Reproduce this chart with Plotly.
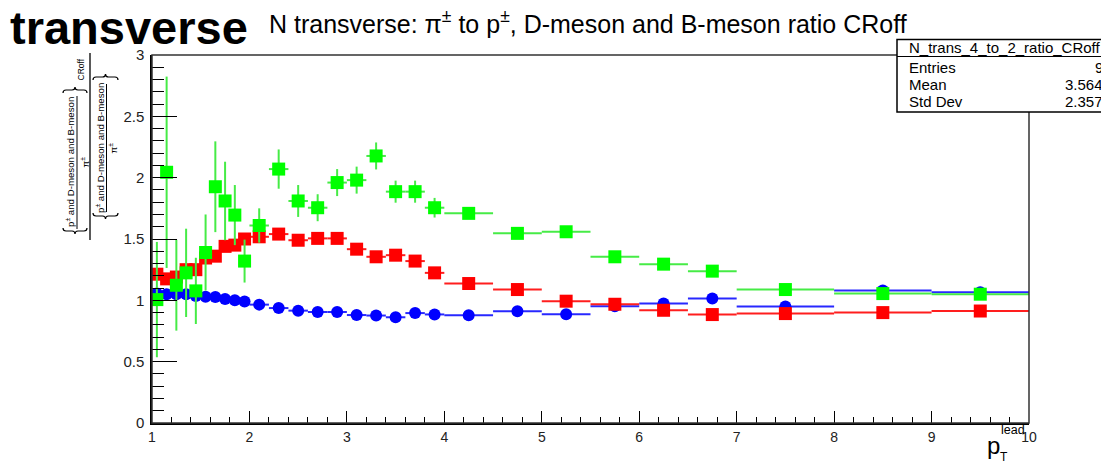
import plotly.graph_objects as go

# p_T^lead binning (variable width bins)
bin_edges = [1.0, 1.1, 1.2, 1.3, 1.4, 1.5, 1.6, 1.7, 1.8, 1.9, 2.0,
             2.2, 2.4, 2.6, 2.8, 3.0, 3.2, 3.4, 3.6, 3.8, 4.0,
             4.5, 5.0, 5.5, 6.0, 6.5, 7.0, 8.0, 9.0, 10.0]

# ratio values per bin
blue_ratio = [1.055, 1.05, 1.05, 1.05, 1.036, 1.03, 1.028, 1.01, 1.0, 0.99,
              0.965, 0.937, 0.916, 0.905, 0.905, 0.88, 0.876, 0.862, 0.896, 0.885,
              0.878, 0.911, 0.886, 0.952, 0.974, 1.015,
              0.95, 1.08, 1.066]

red_ratio = [1.213, 1.175, 1.19, 1.25, 1.25, 1.345, 1.36, 1.44, 1.45, 1.50,
             1.518, 1.54, 1.49, 1.505, 1.505, 1.417, 1.355, 1.368, 1.32, 1.224,
             1.137, 1.088, 0.993, 0.968, 0.919, 0.884,
             0.892, 0.90, 0.913]

green_ratio = [1.006, 2.044, 1.123, 1.224, 1.077, 1.39, 1.926, 1.81, 1.695, 1.32,
               1.61, 2.07, 1.81, 1.755, 1.96, 1.98, 2.177, 1.886, 1.886, 1.755,
               1.709, 1.546, 1.559, 1.355, 1.295, 1.238,
               1.088, 1.055, 1.05]

green_err = [0.47, 0.78, 0.37, 0.36, 0.27, 0.31, 0.37, 0.32, 0.245, 0.175,
             0.14, 0.16, 0.13, 0.11, 0.11, 0.11, 0.11, 0.09, 0.09, 0.08,
             0.03, 0.025, 0.025, 0.02, 0.02, 0.02, 0.015, 0.015, 0.015]

stats_labels = ["Entries", "Mean", "Std Dev"]
stats_values = ["9", "3.564", "2.357"]

centers = [(a + b) / 2 for a, b in zip(bin_edges[:-1], bin_edges[1:])]
half_w = [(b - a) / 2 for a, b in zip(bin_edges[:-1], bin_edges[1:])]

W, H = 1101, 463
ML, MR, MT, MB = 152, 72, 55, 40
PW, PH = W - ML - MR, H - MT - MB


def px(x):
    return (x - ML) / PW


def py(y):
    return (H - MB - y) / PH


FONT = "Liberation Sans, Arial, Helvetica, sans-serif"

fig = go.Figure()

series = [
    (blue_ratio, None, "#0000ff", "rgb(40,40,255)", "circle", 12),
    (red_ratio, None, "#ff0000", "rgb(255,30,30)", "square", 13),
    (green_ratio, green_err, "#00ff00", "rgb(70,235,70)", "square", 13),
]
for vals, errs, col, ecol, sym, size in series:
    fig.add_trace(go.Scatter(
        x=centers, y=vals, mode="markers",
        marker=dict(color=col, symbol=sym, size=size, line=dict(width=0)),
        error_x=dict(type="data", array=half_w, color=ecol, thickness=2, width=0),
        error_y=(dict(type="data", array=errs, color=ecol, thickness=2, width=0)
                 if errs is not None else dict(visible=False)),
        showlegend=False,
    ))

shapes = []
# frame
shapes.append(dict(type="rect", xref="paper", yref="paper", x0=0, x1=1, y0=0, y1=1,
                   line=dict(color="#333", width=1.5), layer="above"))


def vline(x, y0, y1, w=1.0):
    shapes.append(dict(type="line", xref="paper", yref="paper",
                       x0=px(x), x1=px(x), y0=py(y0), y1=py(y1),
                       line=dict(color="black", width=w)))


def hbrace(xa, xb, y, s, d=3.0):
    xm = (xa + xb) / 2
    pts = [
        ("M", [(xa, y - s * d)]),
        ("Q", [(xa, y), (xa + d, y)]),
        ("L", [(xm - d, y)]),
        ("Q", [(xm, y), (xm, y + s * d)]),
        ("Q", [(xm, y), (xm + d, y)]),
        ("L", [(xb - d, y)]),
        ("Q", [(xb, y), (xb, y - s * d)]),
    ]
    path = ""
    for cmd, coords in pts:
        path += cmd + " " + " ".join(f"{px(a):.5f},{py(b):.5f}" for a, b in coords) + " "
    shapes.append(dict(type="path", xref="paper", yref="paper", path=path.strip(),
                       line=dict(color="black", width=1.2)))


# y-axis title: nested ratio drawn as rotated pieces
vline(77, 96, 229)       # inner fraction bar (numerator)
vline(90, 53, 240, 1.3)  # main fraction bar
vline(106.5, 84, 212)    # inner fraction bar (denominator)
hbrace(63, 87, 231, +1)
hbrace(63, 87, 90, -1)
hbrace(93, 118, 216, +1)
hbrace(93, 118, 77, -1)

# statistics box
shapes.append(dict(type="rect", xref="paper", yref="paper",
                   x0=px(897), x1=px(1115), y0=py(112), y1=py(39.5),
                   fillcolor="white", line=dict(color="black", width=1.5), layer="above"))
shapes.append(dict(type="line", xref="paper", yref="paper",
                   x0=px(897), x1=px(1115), y0=py(56.5), y1=py(56.5),
                   line=dict(color="black", width=1.2), layer="above"))

ann = []


def text(x, y, s, size, anchor="center", angle=0, bold=False, color="black"):
    ann.append(dict(xref="paper", yref="paper", x=px(x), y=py(y), text=s,
                    showarrow=False, xanchor=anchor, yanchor="middle",
                    textangle=angle,
                    font=dict(family=FONT, size=size, color=color,
                              weight="bold" if bold else "normal")))


text(8, 27, "transverse", 47, anchor="left", bold=True)
text(267, 22, "N transverse: π<sup>±</sup> to p<sup>±</sup>, D-meson and B-meson ratio CRoff",
     25, anchor="left")

# rotated y title pieces
text(70, 162, "p<sup>±</sup> and D-meson and B-meson", 9.7, angle=-90)
text(84.5, 162, "π<sup>±</sup>", 9.7, angle=-90)
text(80.5, 70, "CRoff", 8.5, angle=-90)
text(100, 148, "p<sup>±</sup> and D-meson and B-meson", 9.7, angle=-90)
text(112.5, 148, "π<sup>±</sup>", 9.7, angle=-90)

# x title
text(993, 445, "p", 24)
text(1013, 430, "lead", 12.5)
text(1004, 457, "T", 12)

# stats box text
text(907, 47.5, "N_trans_4_to_2_ratio_CRoff", 15, anchor="left")
for i, (lab, val) in enumerate(zip(stats_labels, stats_values)):
    yy = 67.5 + 17 * i
    text(907, yy, lab, 15, anchor="left")
    text(1105, yy, val, 15, anchor="right")

fig.update_layout(
    width=W, height=H,
    margin=dict(l=ML, r=MR, t=MT, b=MB, pad=0),
    paper_bgcolor="white", plot_bgcolor="white",
    font=dict(family=FONT, color="black"),
    shapes=shapes, annotations=ann,
    xaxis=dict(range=[1, 10], tickmode="linear", tick0=1, dtick=1,
               ticks="inside", ticklen=12, tickwidth=1, tickcolor="black",
               showline=True, linecolor="black", linewidth=1.5,
               showgrid=False, zeroline=False,
               tickfont=dict(size=14, color="#222"),
               minor=dict(tick0=1, dtick=0.2, ticks="inside", ticklen=6,
                          tickcolor="black", tickwidth=1, showgrid=False)),
    yaxis=dict(range=[0, 3], tickmode="linear", tick0=0, dtick=0.5,
               ticks="inside", ticklen=25, tickwidth=1, tickcolor="black",
               showline=True, linecolor="black", linewidth=1.5,
               showgrid=False, zeroline=False, ticklabelstandoff=3,
               tickfont=dict(size=15, color="#222"),
               minor=dict(tick0=0, dtick=0.1, ticks="inside", ticklen=12,
                          tickcolor="black", tickwidth=1, showgrid=False)),
)

fig.write_html("out.html")
